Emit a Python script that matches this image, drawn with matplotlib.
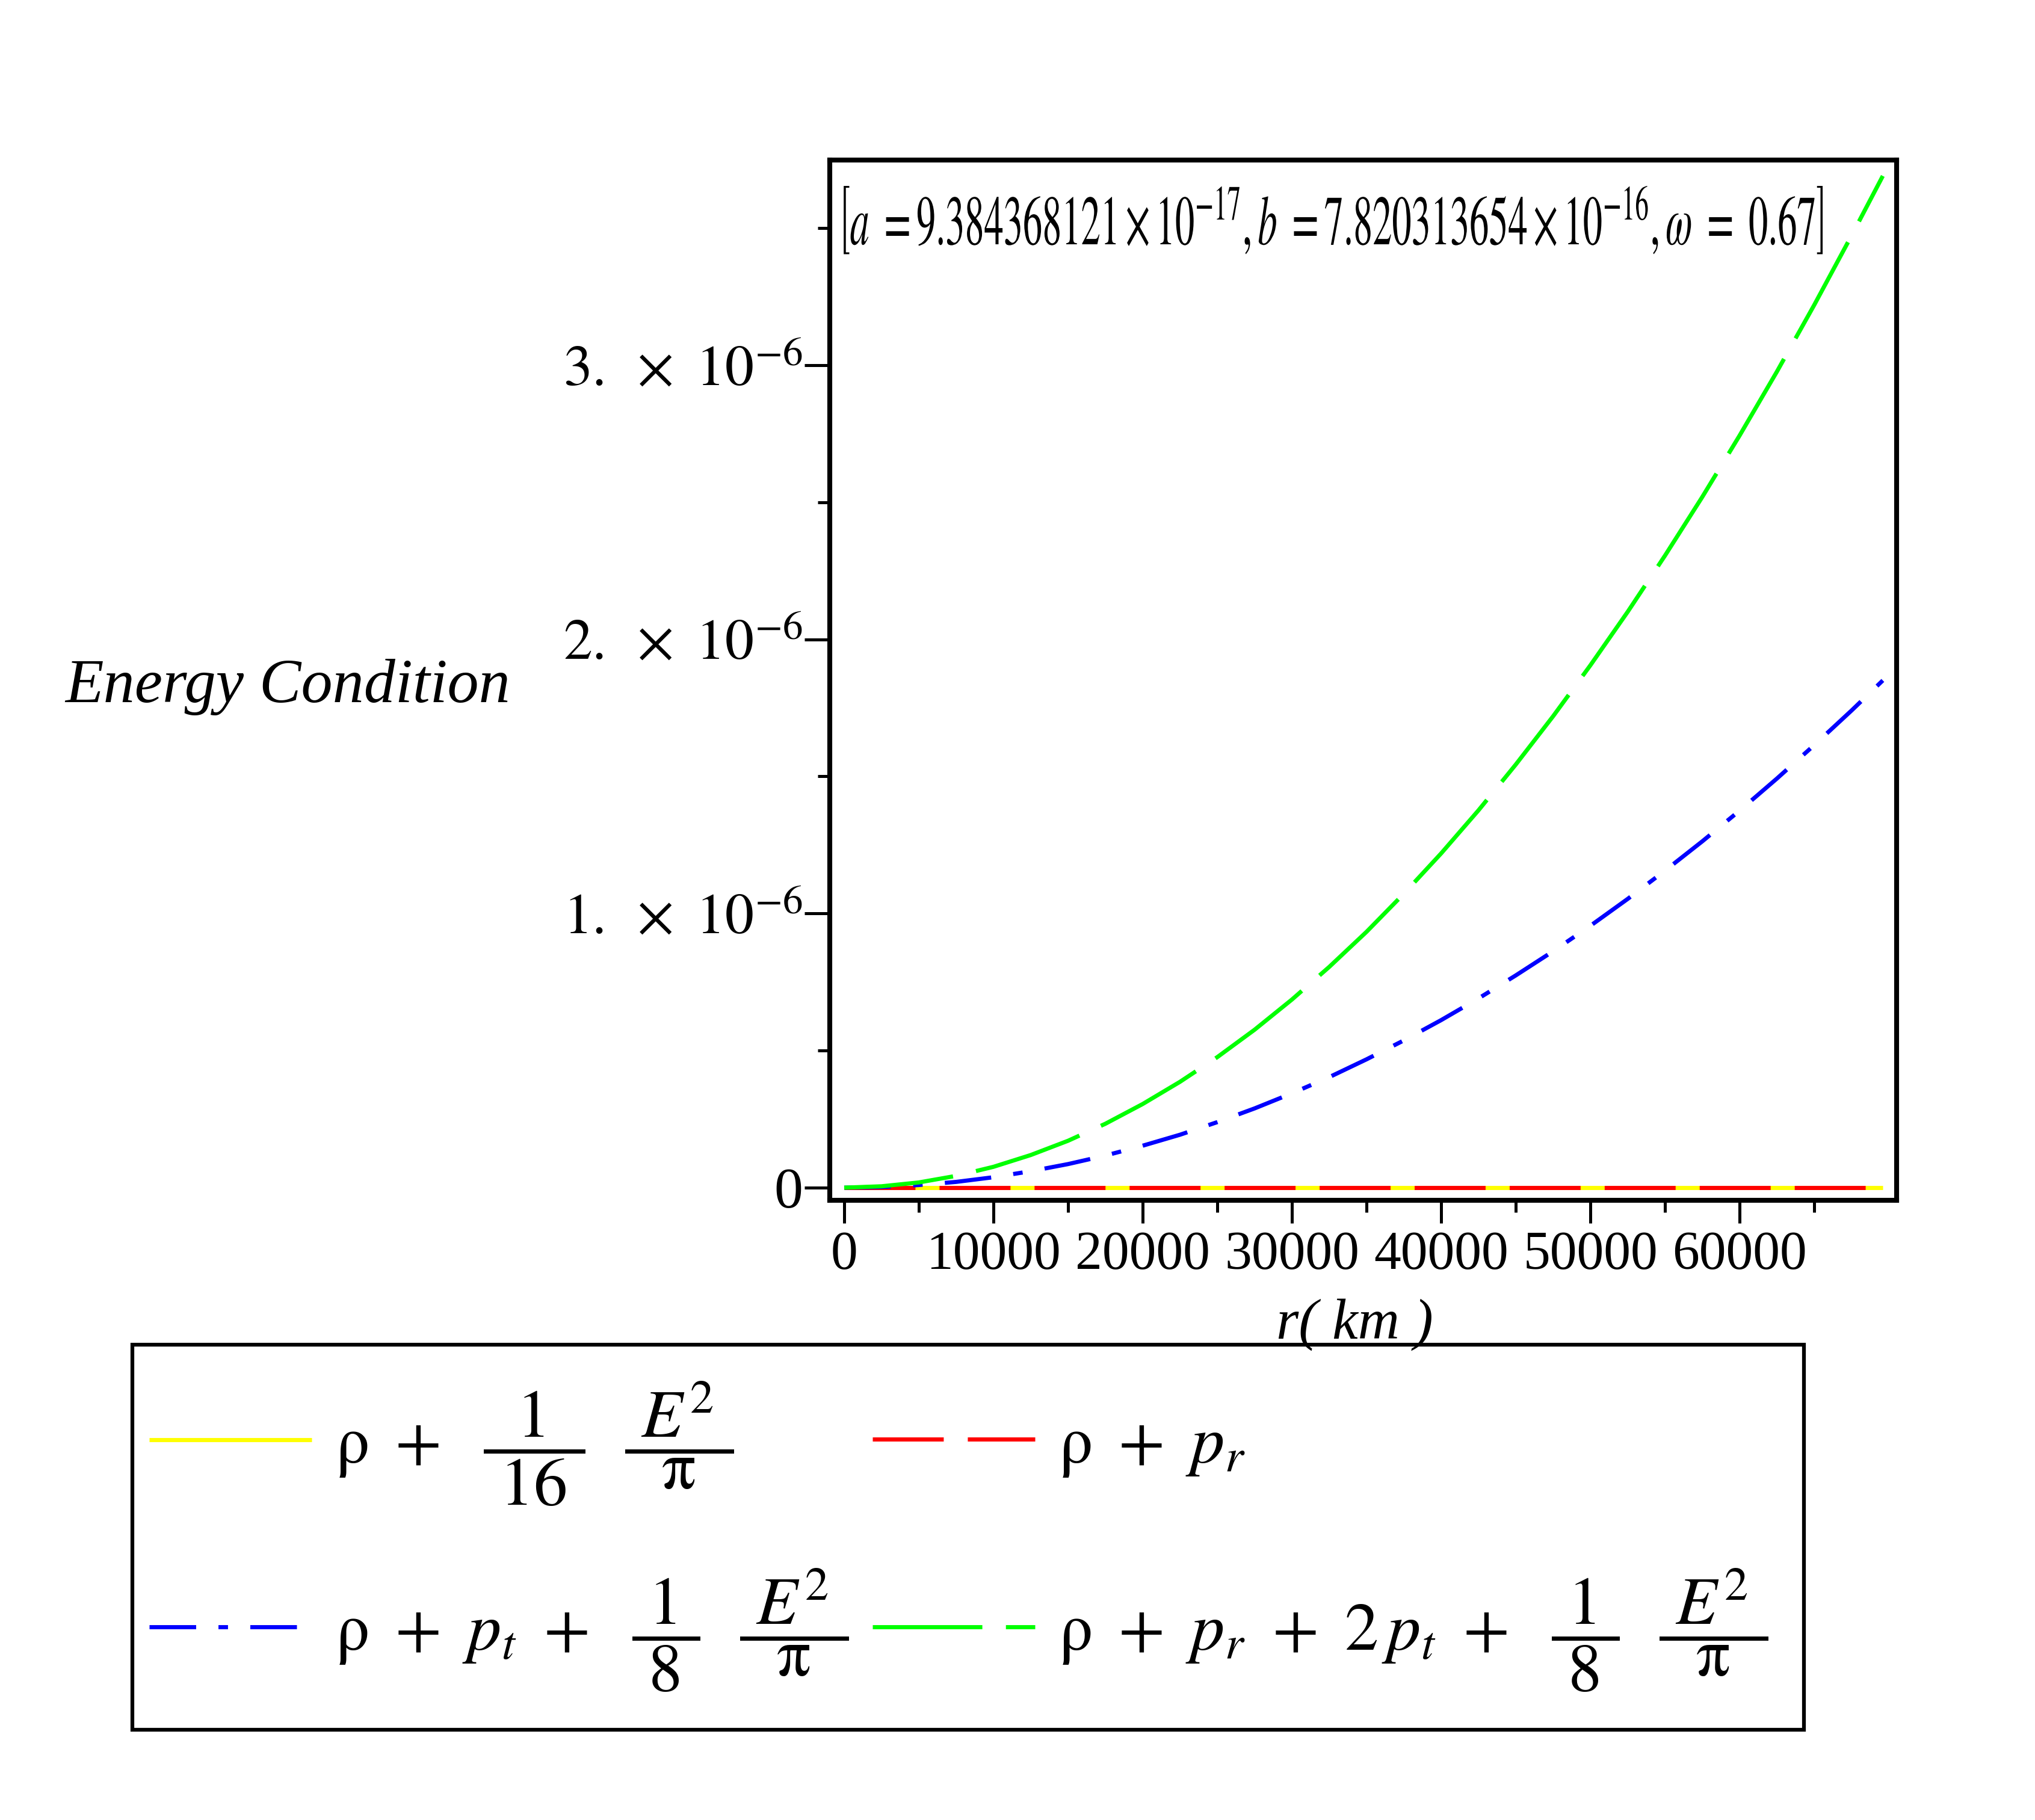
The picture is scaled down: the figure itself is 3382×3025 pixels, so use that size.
import numpy as np
import matplotlib
matplotlib.use("Agg")
import matplotlib.pyplot as plt
from matplotlib import patheffects
from matplotlib.patches import Rectangle
from matplotlib.transforms import Affine2D

# --------------------------------------------------
# 1. Data (values in units of 1e-6)
# --------------------------------------------------
r_km = [0, 2500, 5000, 7500, 10000, 12500, 15000, 17500, 20000, 22500,
        25000, 27500, 30000, 32500, 35000, 37500, 40000, 42500, 45000,
        47500, 50000, 52500, 55000, 57500, 60000, 62500, 65000, 67500, 69600]

# rho + E^2/(16 pi)  and  rho + p_r  -> flat on this scale
wec_rho = [0.0] * 29
nec_r = [0.0] * 29
# rho + p_t + E^2/(8 pi)
nec_t = [0.0, 0.0024, 0.0095, 0.021, 0.038, 0.060, 0.086, 0.117, 0.153, 0.193,
         0.239, 0.289, 0.344, 0.403, 0.468, 0.537, 0.611, 0.690, 0.774,
         0.862, 0.955, 1.053, 1.156, 1.263, 1.375, 1.492, 1.614, 1.740, 1.85]
# rho + p_r + 2 p_t + E^2/(8 pi)
sec = [0.0, 0.005, 0.019, 0.043, 0.076, 0.119, 0.171, 0.233, 0.305, 0.386,
       0.476, 0.576, 0.686, 0.805, 0.933, 1.072, 1.219, 1.376, 1.543,
       1.719, 1.905, 2.100, 2.305, 2.519, 2.743, 2.976, 3.219, 3.472, 3.69]

labels = [
    r"$\mathrm{\rho}\ +\ \ \dfrac{\ 1\ }{\ 16\ }\ \ \dfrac{\ E^{2}\ }{\mathrm{\pi}}$",
    r"$\mathrm{\rho}\ +\ p_{r}$",
    r"$\mathrm{\rho}\ +\ p_{t}\ +\ \ \dfrac{\ 1\ }{\ 8\ }\ \ \dfrac{\ E^{2}\ }{\mathrm{\pi}}$",
    r"$\mathrm{\rho}\ +\ p_{r}\ +\ 2\,p_{t}\ +\ \ \dfrac{\ 1\ }{\ 8\ }\ \ \dfrac{\ E^{2}\ }{\mathrm{\pi}}$",
]

x_ticks = [0, 10000, 20000, 30000, 40000, 50000, 60000]
x_ticklabels = ["0", "10000", "20000", "30000", "40000", "50000", "60000"]
x_minor = [5000, 15000, 25000, 35000, 45000, 55000, 65000]
y_ticks = [0.0, 1e-6, 2e-6, 3e-6]
y_ticklabels = ["0", r"$1.\ \times\ 10^{-6}$", r"$2.\ \times\ 10^{-6}$",
                r"$3.\ \times\ 10^{-6}$"]
y_minor = [0.5e-6, 1.5e-6, 2.5e-6, 3.5e-6]

params_text = (r"$\left[a\ =9.384368121\times10^{-17}, b\ =7.820313654"
               r"\times10^{-16}, \omega\ =\ 0.67\right]$")

# --------------------------------------------------
# 2. Figure
# --------------------------------------------------
plt.rcParams["font.family"] = ["Liberation Serif", "DejaVu Serif"]
plt.rcParams["mathtext.fontset"] = "stix"
plt.rcParams["lines.scale_dashes"] = False

W, H, DPI = 3382, 3025, 300
LW = 1.65


class Squeeze(patheffects.AbstractPathEffect):
    """Narrow glyphs in x about a fixed display x (Maple's condensed Times)."""

    def __init__(self, sx=1.0, x_anchor=0.0):
        super().__init__()
        self.sx = sx
        self.x_anchor = x_anchor

    def draw_path(self, renderer, gc, tpath, affine, rgbFace=None):
        squash = (Affine2D().translate(-self.x_anchor, 0)
                  .scale(self.sx, 1.0).translate(self.x_anchor, 0))
        renderer.draw_path(gc, tpath, affine + squash, rgbFace)


fig = plt.figure(figsize=(W / DPI, H / DPI), dpi=DPI)
ax = fig.add_axes([1379 / W, 1 - 1995 / H, (3152 - 1379) / W, (1995 - 266) / H])

r = np.array(r_km)
l_yel, = ax.plot(r, np.array(wec_rho) * 1e-6, color="yellow", lw=LW, solid_capstyle="butt")
l_red, = ax.plot(r, np.array(nec_r) * 1e-6, color="red", lw=LW, dashes=(28.3, 9.6))
l_blu, = ax.plot(r, np.array(nec_t) * 1e-6, color="blue", lw=LW, dashes=(18.6, 8.9, 3.8, 8.9))
l_grn, = ax.plot(r, np.array(sec) * 1e-6, color="#00ff00", lw=LW, dashes=(43.7, 9.4))

ax.set_xlim(-968, 70524)
ax.set_ylim(-0.0461e-6, 3.748e-6)

ax.set_xticks(x_ticks)
ax.set_xticklabels(x_ticklabels, fontsize=21.5)
ax.set_xticks(x_minor, minor=True)
ax.set_yticks(y_ticks)
ax.set_yticklabels(y_ticklabels, fontsize=23)
ax.set_yticks(y_minor, minor=True)

ax.tick_params(axis="both", which="major", direction="out", width=1.2, color="black")
ax.tick_params(axis="both", which="minor", direction="out", width=1.2, length=4.8)
ax.tick_params(axis="y", which="major", length=10, pad=0.8)
ax.tick_params(axis="x", which="major", length=9, pad=3)
for sp in ax.spines.values():
    sp.set_linewidth(1.95)

# parameter list inside the frame: right end fixed, glyphs narrowed leftwards
TITLE_L, TITLE_R = 1393, 3030
title = fig.text(TITLE_R / W, 1 - 407 / H, params_text,
                 ha="right", va="baseline", fontsize=28)
squeeze = Squeeze(1.0, TITLE_R)
title.set_path_effects([squeeze])

# axis titles, Maple style
fig.text(108 / W, 1 - 1167 / H, "Energy Condition", fontstyle="italic",
         fontsize=25, ha="left", va="baseline")
fig.text(2251 / W, 1 - 2225 / H, "r( km )", fontstyle="italic",
         fontsize=23, ha="center", va="baseline")

# --------------------------------------------------
# 3. Legend: one entry per slot, common frame
# --------------------------------------------------
LEG_FS = 27
leg_px = LEG_FS * DPI / 72
entries = [(l_yel, labels[0], 248, 2400), (l_red, labels[1], 1450, 2405),
           (l_blu, labels[2], 248, 2710), (l_grn, labels[3], 1450, 2710)]
for handle, lab, x0, y0 in entries:
    fig.legend([handle], [lab], loc="center left",
               bbox_to_anchor=(x0 / W, 1 - y0 / H),
               frameon=False, fontsize=LEG_FS, borderpad=0, borderaxespad=0,
               handlelength=270 / leg_px, handletextpad=39 / leg_px)

fig.add_artist(Rectangle((220 / W, 1 - 2875 / H), (2998 - 220) / W, (2875 - 2235) / H,
                         transform=fig.transFigure, fill=False, lw=1.5,
                         edgecolor="black"))

# narrow the parameter text to the width it has in the original
fig.canvas.draw()
squeeze.sx = (TITLE_R - TITLE_L) / title.get_window_extent().width

fig.savefig("out.png", dpi=DPI)
